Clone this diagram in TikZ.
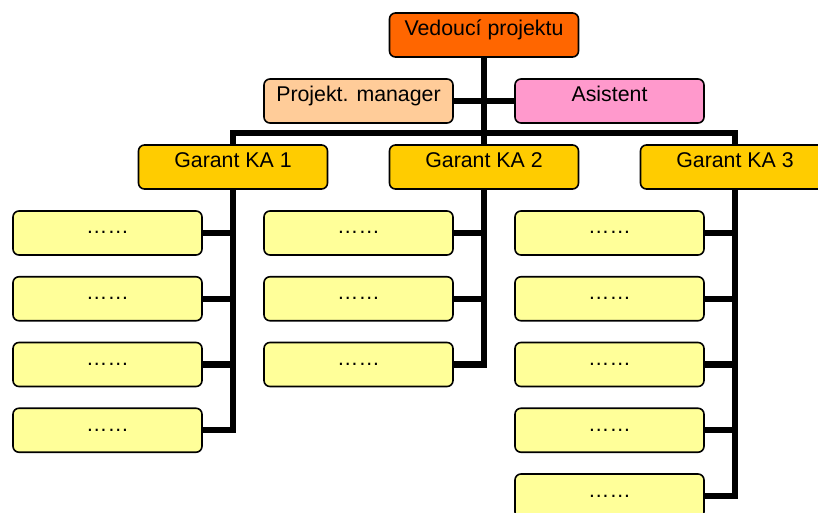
\documentclass[tikz,border=0pt]{standalone}
\usepackage{fontspec}
\setmainfont{Liberation Sans}
\usetikzlibrary{backgrounds}
\definecolor{headorange}{HTML}{FF6600}
\definecolor{peach}{HTML}{FFCC99}
\definecolor{pink}{HTML}{FF99CC}
\definecolor{gold}{HTML}{FFCC00}
\definecolor{paleyellow}{HTML}{FFFF99}
\begin{document}
\begin{tikzpicture}[x=0.75pt,y=-0.75pt,
  box/.style={draw=black, line width=1.2pt, rounded corners=4.5pt,
    minimum width=141.75pt, minimum height=33pt, inner sep=0pt,
    text height=6pt, text depth=4.5pt, font=\fontsize{16}{19}\selectfont},
  task/.style={box, fill=paleyellow},
  link/.style={line width=4.8pt}]
\useasboundingbox (0,0) rectangle (818,513);

% management
\node[box, fill=headorange] (ved) at (484,35) {Vedoucí projektu};
\node[box, fill=peach] (pm) at (358.5,101) {Projekt. manager};
\node[box, fill=pink] (as) at (609.5,101) {Asistent};
\coordinate (bus) at (484,133);

% work package leaders
\node[box, fill=gold] (g1) at (233,167) {Garant KA 1};
\node[box, fill=gold] (g2) at (484,167) {Garant KA 2};
\node[box, fill=gold] (g3) at (735,167) {Garant KA 3};

% tasks
\foreach \i/\y in {1/233,2/298.75,3/364.5,4/430.25}
  \node[task] (a\i) at (107.5,\y) {……};
\foreach \i/\y in {1/233,2/298.75,3/364.5}
  \node[task] (b\i) at (358.5,\y) {……};
\foreach \i/\y in {1/233,2/298.75,3/364.5,4/430.25,5/496}
  \node[task] (c\i) at (609.5,\y) {……};

\begin{scope}[on background layer]
  \draw[link] (ved.south) -- (bus);
  \draw[link] (pm) -- (as);
  \draw[link] (g1.north) -- (g1.north |- bus) -- (g3.north |- bus) -- (g3.north);
  \draw[link] (bus) -- (g2.north);
  % column 1
  \draw[link] (g1.south) |- (a4.east);
  \foreach \i in {1,2,3}
    \draw[link] (a\i.east) -- (a\i.east -| g1.south);
  % column 2
  \draw[link] (g2.south) |- (b3.east);
  \foreach \i in {1,2}
    \draw[link] (b\i.east) -- (b\i.east -| g2.south);
  % column 3
  \draw[link] (g3.south) |- (c5.east);
  \foreach \i in {1,2,3,4}
    \draw[link] (c\i.east) -- (c\i.east -| g3.south);
\end{scope}
\end{tikzpicture}
\end{document}
